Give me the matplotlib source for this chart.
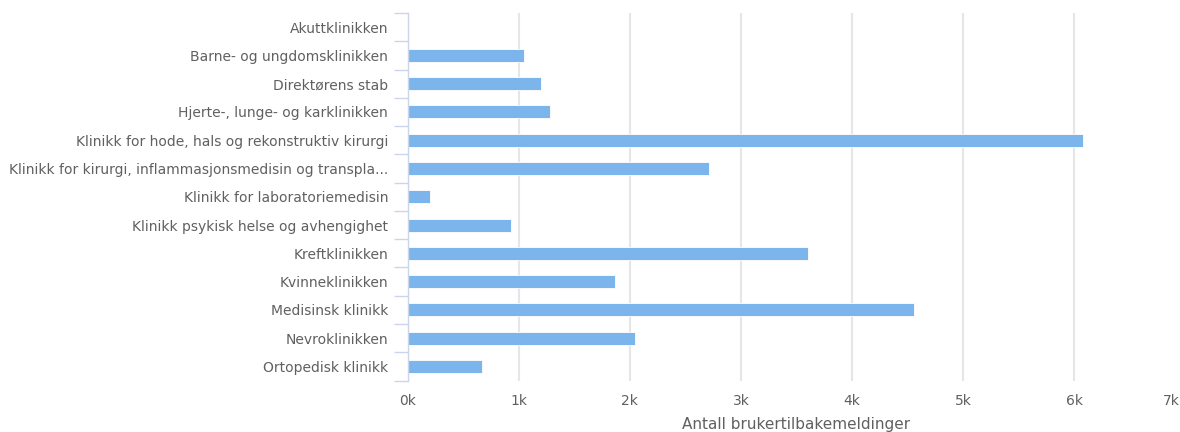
import matplotlib
matplotlib.use('Agg')
import matplotlib.pyplot as plt
from matplotlib.ticker import FixedLocator
from matplotlib.transforms import ScaledTranslation

# --- data ---
klinikker = [
    'Akuttklinikken',
    'Barne- og ungdomsklinikken',
    'Direktørens stab',
    'Hjerte-, lunge- og karklinikken',
    'Klinikk for hode, hals og rekonstruktiv kirurgi',
    'Klinikk for kirurgi, inflammasjonsmedisin og transpla...',
    'Klinikk for laboratoriemedisin',
    'Klinikk psykisk helse og avhengighet',
    'Kreftklinikken',
    'Kvinneklinikken',
    'Medisinsk klinikk',
    'Nevroklinikken',
    'Ortopedisk klinikk',
]
antall = [0, 1045, 1200, 1280, 6080, 2715, 200, 930, 3600, 1865, 4555, 2050, 670]
x_ticks = [0, 1000, 2000, 3000, 4000, 5000, 6000, 7000]
x_labels = ['0k', '1k', '2k', '3k', '4k', '5k', '6k', '7k']

# --- figure ---
W, H = 1180, 432
fig = plt.figure(figsize=(W / 100, H / 100), dpi=100)
left, right, top, bottom = 407.5, 1185.5, 13, 380.5
ax = fig.add_axes([left / W, 1 - bottom / H, (right - left) / W, (bottom - top) / H])

txt = '#606060'
axis_col = '#ccd6eb'

y = list(range(len(klinikker)))
ax.barh(y, antall, height=0.46, color='#7cb5ec', edgecolor='white', linewidth=0.6, zorder=3)

ax.set_xlim(0, 7000)
ax.set_ylim(len(klinikker) - 0.5, -0.5)

ax.set_xticks(x_ticks)
ax.set_xticklabels(x_labels, color=txt, fontsize=10)
ax.set_yticks(y)
ax.set_yticklabels(klinikker, color=txt, fontsize=10)

ax.yaxis.set_minor_locator(FixedLocator([i - 0.5 for i in range(len(klinikker) + 1)]))
ax.tick_params(axis='y', which='major', length=0, pad=14)
ax.tick_params(axis='y', which='minor', length=10, width=1, color=axis_col)
ax.tick_params(axis='x', length=0, pad=10)

# siste etikett (7k) skyves inn så den ikke kuttes helt
last = ax.get_xticklabels()[-1]
last.set_transform(last.get_transform() + ScaledTranslation(-14 / 100, 0, fig.dpi_scale_trans))

ax.grid(axis='x', color='#e6e6e6', linewidth=1.5, zorder=0)
for s in ['top', 'right', 'bottom']:
    ax.spines[s].set_visible(False)
ax.spines['left'].set_color(axis_col)
ax.spines['left'].set_linewidth(1)
ax.spines['left'].set_zorder(4)

ax.set_xlabel('Antall brukertilbakemeldinger', color=txt, fontsize=11, labelpad=6)

fig.savefig('out.png', dpi=100)
